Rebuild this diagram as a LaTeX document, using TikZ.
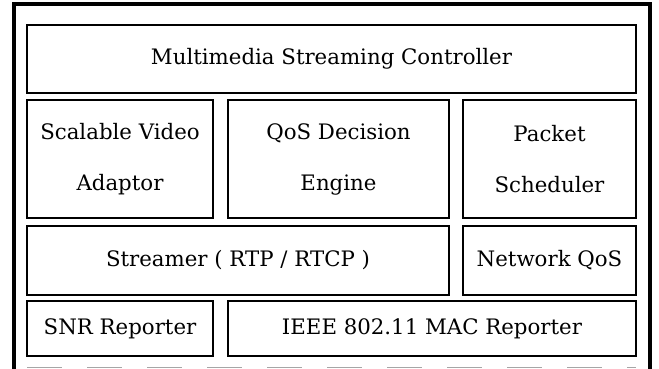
\documentclass[tikz,border=0pt]{standalone}
\usepackage{fontspec}
\setmainfont{DejaVu Serif}
\usepackage{tikz}
\usetikzlibrary{positioning}
\tikzset{blk/.style={draw, line width=1.2pt, inner sep=0pt, font=\fontsize{21.3}{51}\selectfont, align=center}}

\begin{document}
\begin{tikzpicture}[x=1pt,y=-1pt]
\useasboundingbox (0,0) rectangle (659,369);
\clip (0,0) rectangle (659,369);
\draw[line width=3.5pt] (14,375) -- (14,4) -- (650,4) -- (650,375);

\node[blk, minimum width=609pt, minimum height=68pt] (ctrl) at (331.5,59) {Multimedia Streaming Controller};

\node[blk, minimum width=186pt, minimum height=118pt] (sva) at (120,159) {Scalable Video\\Adaptor};
\node[blk, minimum width=221pt, minimum height=118pt] (qde) at (338.5,159) {QoS Decision\\Engine};
\node[blk, minimum width=173pt, minimum height=118pt] (psch) at (549.5,159) {Packet\\Scheduler};

\node[blk, minimum width=422pt, minimum height=69pt] (strm) at (238,260.5) {Streamer ( RTP / RTCP )};
\node[blk, minimum width=173pt, minimum height=69pt] (nqos) at (549.5,260.5) {Network QoS};

\node[blk, minimum width=186pt, minimum height=55pt] (snr) at (120,328.5) {SNR Reporter};
\node[blk, minimum width=408pt, minimum height=55pt] (mac) at (432,328.5) {IEEE 802.11 MAC Reporter};

% cut-off edge of the next row
\draw[gray!70, line width=0.8pt, dash pattern=on 35pt off 25pt] (27,367) -- (636,367);

\end{tikzpicture}
\end{document}
